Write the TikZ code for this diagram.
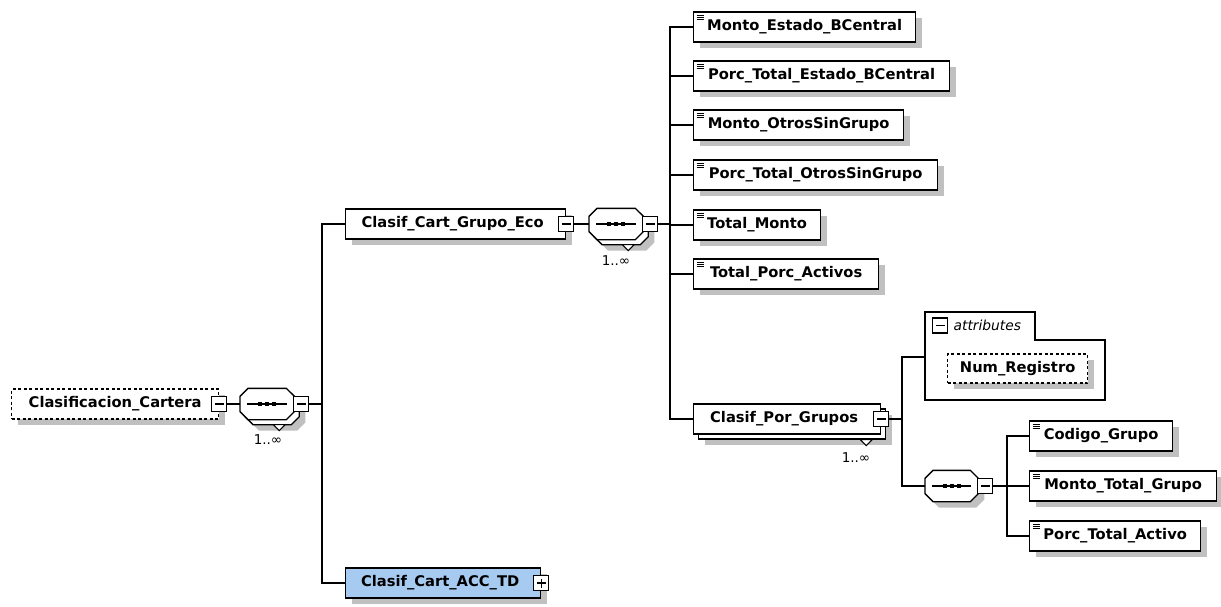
\documentclass[tikz,border=0pt]{standalone}
\usepackage{fontspec}
\setmainfont{DejaVu Sans}
\usetikzlibrary{calc,shadows}
\definecolor{accblue}{RGB}{166,202,240}
\definecolor{shadowgray}{RGB}{192,192,192}
\newcommand\elfont{\bfseries\fontsize{14.7}{17}\selectfont}
\newcommand\cardfont{\fontsize{13.5}{15}\selectfont}
\newcommand\attrfont{\itshape\fontsize{13.8}{15}\selectfont}
\newcommand\octo[2][]{\draw[line width=1.3pt,#1] ($(#2.north west)+(8,0)$) -- ($(#2.north east)+(-8,0)$) -- ($(#2.north east)+(0,8)$) -- ($(#2.south east)+(0,-8)$) -- ($(#2.south east)+(-8,0)$) -- ($(#2.south west)+(8,0)$) -- ($(#2.south west)+(0,-8)$) -- ($(#2.north west)+(0,8)$) -- cycle;}
\newcommand\seqmark[1]{\draw[line width=1.2pt] ($(#1.west)+(7,0)$) -- ($(#1.east)+(-7,0)$);
  \foreach \dd in {-7,0,7} {\fill ($(#1.center)+(\dd-2,-2)$) rectangle ++(4,4);}}
\newcommand\tri[1]{\draw[line width=1.1pt,fill=white] ($(#1.south east)+(-26,0)$) -- ++(12,0) -- ++(-6,6) -- cycle;}
\begin{document}
\begin{tikzpicture}[x=1pt,y=-1pt,line width=1.3pt,
  shad/.style={drop shadow={shadow xshift=6pt,shadow yshift=-6pt,opacity=1,fill=shadowgray}},
  box/.style={draw,line width=1.3pt,fill=white,minimum height=30pt,inner sep=0pt,anchor=west,font=\elfont},
  leaf/.style={box,shad,path picture={\foreach \k in {3,5,7} \draw[line width=0.8pt] ([xshift=3pt,yshift=-\k pt]path picture bounding box.north west) -- ++(7pt,0pt);}},
  dashbox/.style={box,shad,dash pattern=on 3pt off 2.5pt},
  seqn/.style={minimum width=53pt,minimum height=30pt,inner sep=0pt,anchor=west},
  mbox/.style={draw,fill=white,line width=1.1pt,minimum size=15pt,inner sep=0pt,
    path picture={\draw[line width=1.1pt] ([xshift=3pt]path picture bounding box.west) -- ([xshift=-3pt]path picture bounding box.east);}},
  pbox/.style={draw,fill=white,line width=1.1pt,minimum size=15pt,inner sep=0pt,
    path picture={\draw[line width=1.1pt] ([xshift=3pt]path picture bounding box.west) -- ([xshift=-3pt]path picture bounding box.east);
      \draw[line width=1.1pt] ([yshift=-3pt]path picture bounding box.north) -- ([yshift=3pt]path picture bounding box.south);}},
  card/.style={font=\cardfont,inner sep=0pt}]
\useasboundingbox (0,0) rectangle (1221,606);

% root
\node[dashbox,minimum width=207pt] (root) at (11,404) {Clasificacion\_Cartera};
\node[mbox] (rootm) at (root.east) {};

% sequence 1
\node[seqn] (s1) at (240,404) {};
\node[seqn] (s1b) at (245,409) {};
\octo[shad,fill=white]{s1b}
\tri{s1b}
\octo[fill=white]{s1}
\seqmark{s1}
\node[mbox] (s1m) at ($(s1.east)+(7,0)$) {};
\node[card] (s1c) at (268,440) {1..∞};
\draw (rootm.east) -- (s1.west);

% bus 1
\coordinate (b1) at (322,404);
\node[box,shad,minimum width=220pt] (geco) at (345,224) {Clasif\_Cart\_Grupo\_Eco\hspace*{6pt}};
\node[mbox] (gecom) at (geco.east) {};
\node[box,shad,fill=accblue,minimum width=195pt] (acc) at (345,583) {Clasif\_Cart\_ACC\_TD\hspace*{6pt}};
\node[pbox] (accp) at (acc.east) {};
\draw (s1m.east) -- (b1);
\draw (b1) |- (geco.west);
\draw (b1) |- (acc.west);

% sequence 2
\node[seqn] (s2) at (589,224) {};
\node[seqn] (s2b) at (594,229) {};
\octo[shad,fill=white]{s2b}
\tri{s2b}
\octo[fill=white]{s2}
\seqmark{s2}
\node[mbox] (s2m) at ($(s2.east)+(7,0)$) {};
\node[card] (s2c) at (616,261) {1..∞};
\draw (gecom.east) -- (s2.west);

% bus 2 children
\coordinate (b2) at (670,224);
\draw (s2m.east) -- (b2);
\node[leaf,minimum width=222pt] (c1) at (693,27) {Monto\_Estado\_BCentral};
\node[leaf,minimum width=256pt] (c2) at (693,76) {Porc\_Total\_Estado\_BCentral};
\node[leaf,minimum width=210pt] (c3) at (693,125) {Monto\_OtrosSinGrupo};
\node[leaf,minimum width=244pt] (c4) at (693,175) {Porc\_Total\_OtrosSinGrupo};
\node[leaf,minimum width=127pt] (c5) at (693,225) {Total\_Monto};
\node[leaf,minimum width=185pt] (c6) at (693,274) {Total\_Porc\_Activos};
\node[box,shad,minimum width=187pt] (cpgb) at (698,424) {};
\tri{cpgb}
\node[box,minimum width=187pt] (cpg) at (693,419) {Clasif\_Por\_Grupos\hspace*{6pt}};
\node[mbox] (cpgm) at (cpg.east) {};
\node[card] (cpgc) at (856,458) {1..∞};
\foreach \c in {c1,c2,c3,c4,c5,c6,cpg} {\draw (b2) |- (\c.west);}

% bus 3
\coordinate (b3) at (902,419);
\draw (cpgm.east) -- (b3);
\draw[line width=1.3pt,fill=white] (925,312) -- (1035,312) -- (1035,340) -- (1105,340) -- (1105,400) -- (925,400) -- cycle;
\coordinate (attrw) at (925,357);
\node[mbox] (attrm) at (940,325.5) {};
\node[font=\attrfont,inner sep=0pt,anchor=west] (attrt) at (953,325) {attributes};
\node[dashbox,minimum width=140pt,minimum height=29pt] (nr) at (947,368.5) {Num\_Registro};
\draw (b3) |- (attrw);

\node[seqn,minimum width=52pt] (s3) at (925,486) {};
\octo[shad,fill=white]{s3}
\seqmark{s3}
\node[mbox] (s3m) at ($(s3.east)+(7,0)$) {};
\draw (b3) |- (s3.west);

% bus 4
\coordinate (b4) at (1007,486);
\draw (s3m.east) -- (b4);
\node[leaf,minimum width=143pt] (g1) at (1029,436) {Codigo\_Grupo};
\node[leaf,minimum width=187pt] (g2) at (1029,486) {Monto\_Total\_Grupo};
\node[leaf,minimum width=171pt] (g3) at (1029,536) {Porc\_Total\_Activo};
\foreach \g in {g1,g2,g3} {\draw (b4) |- (\g.west);}
\end{tikzpicture}
\end{document}
